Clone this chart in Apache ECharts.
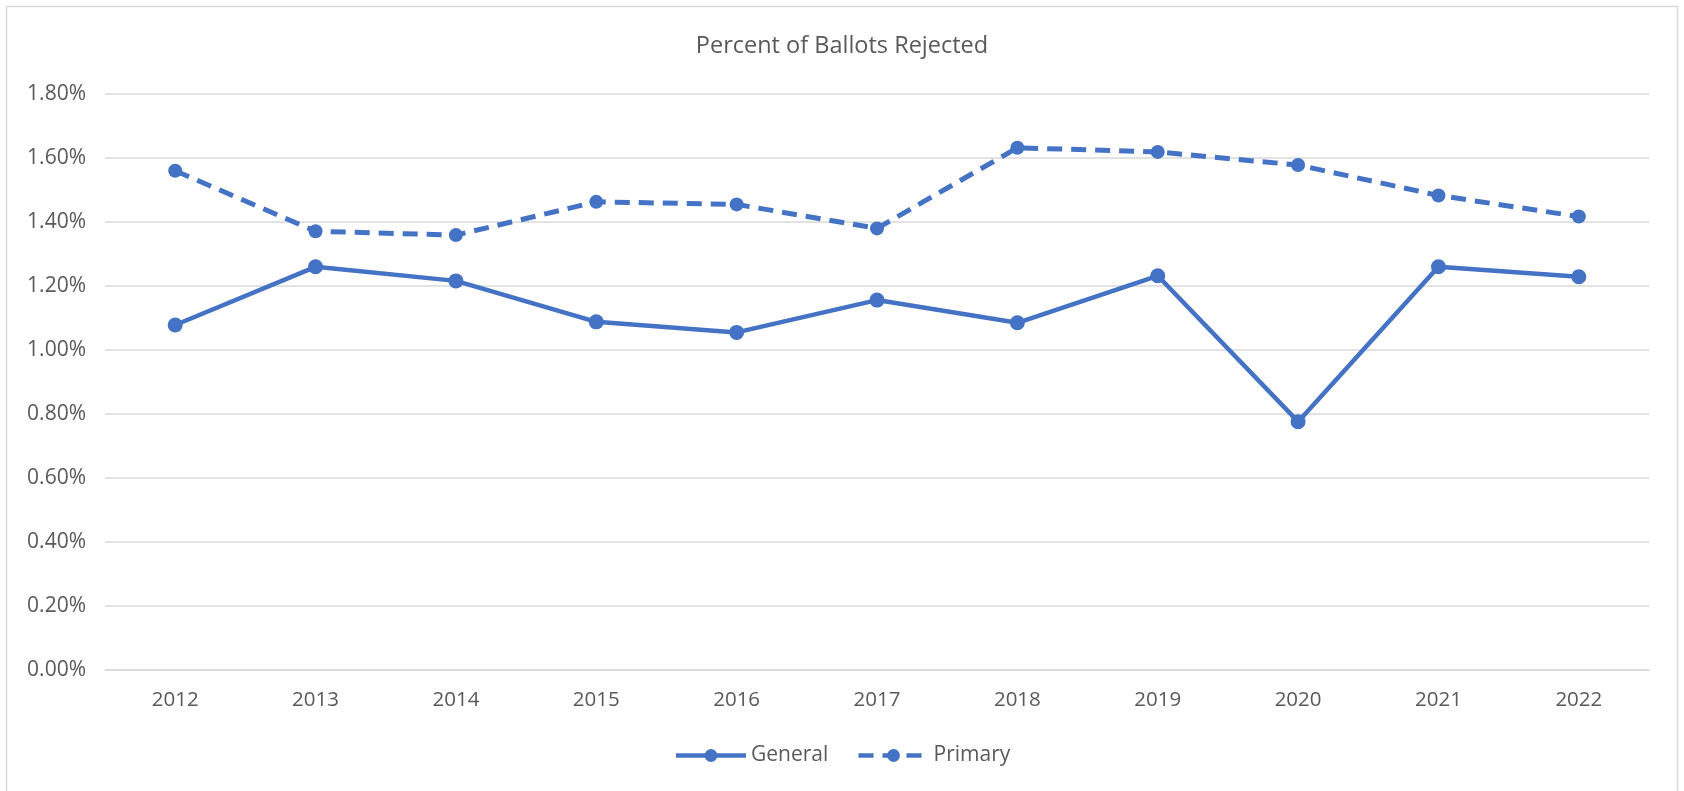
<!DOCTYPE html>
<html>
<head>
<meta charset="utf-8">
<script src="https://cdn.jsdelivr.net/npm/echarts@6/dist/echarts.min.js"></script>
<style>
html,body{margin:0;padding:0;background:#fff;}
#chart{width:1684px;height:791px;}
</style>
</head>
<body>
<div id="chart"></div>
<script>
const years = ['2012','2013','2014','2015','2016','2017','2018','2019','2020','2021','2022'];
const general = [1.078, 1.260, 1.216, 1.088, 1.055, 1.156, 1.085, 1.232, 0.776, 1.260, 1.229];
const primary = [1.560, 1.371, 1.359, 1.463, 1.455, 1.380, 1.632, 1.619, 1.578, 1.483, 1.417];
const yTicks = [0, 0.2, 0.4, 0.6, 0.8, 1.0, 1.2, 1.4, 1.6, 1.8];

const FONT = '"Open Sans", "Noto Sans", sans-serif';
const TXT = '#595959';
const BLUE = '#4472C4';

const chart = echarts.init(document.getElementById('chart'));
chart.setOption({
  animation: false,
  backgroundColor: '#fff',
  title: {
    text: 'Percent of Ballots Rejected',
    left: 'center',
    top: 29,
    textStyle: {fontFamily: FONT, fontSize: 23.5, fontWeight: 'normal', color: TXT}
  },
  graphic: [{
    type: 'rect',
    shape: {x: 6.5, y: 6.5, width: 1671, height: 800},
    style: {fill: 'none', stroke: '#D9D9D9', lineWidth: 1.5},
    silent: true
  }],
  legend: {
    data: ['General', 'Primary'],
    bottom: 20,
    left: 'center',
    itemWidth: 70,
    itemHeight: 16,
    itemGap: 28,
    lineStyle: {width: 4.5},
    textStyle: {fontFamily: FONT, fontSize: 21, color: TXT}
  },
  grid: {left: 105, right: 35, top: 94, bottom: 121, containLabel: false},
  xAxis: {
    type: 'category',
    data: years,
    boundaryGap: true,
    axisLine: {show: true, lineStyle: {color: '#D9D9D9', width: 1.5}},
    axisTick: {show: false},
    axisLabel: {fontFamily: FONT, fontSize: 20.5, color: TXT, margin: 20}
  },
  yAxis: {
    type: 'value',
    min: yTicks[0],
    max: yTicks[yTicks.length - 1],
    interval: 0.2,
    axisLine: {show: false},
    axisTick: {show: false},
    splitLine: {lineStyle: {color: '#D9D9D9', width: 1.5}},
    axisLabel: {
      fontFamily: FONT, fontSize: 21, color: TXT, margin: 19,
      formatter: v => v.toFixed(2) + '%'
    }
  },
  series: [
    {
      name: 'General',
      type: 'line',
      data: general,
      symbol: 'circle',
      symbolSize: 15,
      lineStyle: {color: BLUE, width: 4.5},
      itemStyle: {color: BLUE}
    },
    {
      name: 'Primary',
      type: 'line',
      data: primary,
      symbol: 'circle',
      symbolSize: 14,
      lineStyle: {color: BLUE, width: 5, type: [15, 9]},
      itemStyle: {color: BLUE}
    }
  ]
});
</script>
</body>
</html>
